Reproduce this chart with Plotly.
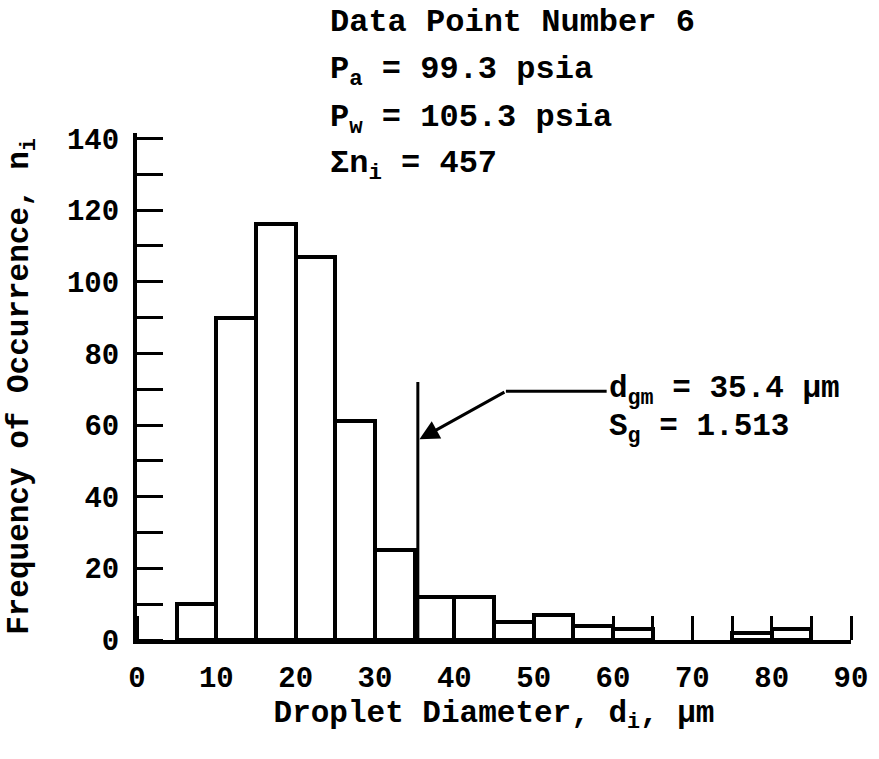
import plotly.graph_objects as go

# Data
bin_left = [0, 5, 10, 15, 20, 25, 30, 35, 40, 45, 50, 55, 60, 65, 70, 75, 80]
counts = [0, 10, 90, 116, 107, 61, 25, 12, 12, 5, 7, 4, 3, 0, 0, 2, 3]
bin_width = 5
x_ticks = [0, 10, 20, 30, 40, 50, 60, 70, 80, 90]
y_ticks = [0, 20, 40, 60, 80, 100, 120, 140]
dgm = 35.4
dgm_line_top = 72

FONT = "Liberation Mono"
TXT = 31

xs = [b + bin_width / 2 for b, c in zip(bin_left, counts) if c > 0]
ys = [c for c in counts if c > 0]

fig = go.Figure()
fig.add_trace(go.Bar(
    x=xs, y=ys, width=bin_width,
    marker=dict(color="white", line=dict(color="black", width=4)),
    showlegend=False, hoverinfo="x+y",
))

xt_all = list(range(0, 91, 5))
yt_all = list(range(0, 141, 10))

fig.update_layout(
    width=879, height=759,
    margin=dict(l=137, r=28, t=133, b=119),
    paper_bgcolor="white", plot_bgcolor="white",
    font=dict(family=FONT, size=TXT, color="black", weight="bold"),
    bargap=0,
    xaxis=dict(
        range=[0, 90], tickmode="array", tickvals=x_ticks,
        ticktext=[str(v) for v in x_ticks],
        ticks="", showgrid=False, zeroline=False,
        showline=True, linecolor="black", linewidth=4,
        tickfont=dict(family=FONT, size=29, weight="bold"),
        ticklabelstandoff=8,
        minor=dict(tickvals=xt_all, ticks="inside", ticklen=24, tickwidth=3, tickcolor="black"),
        title=dict(text="Droplet Diameter, d<sub>i</sub>, μm",
                   font=dict(family=FONT, size=TXT, weight="bold"), standoff=6),
    ),
    yaxis=dict(
        range=[0, 141.5], tickmode="array", tickvals=y_ticks,
        ticktext=[str(v) for v in y_ticks],
        ticks="", showgrid=False, zeroline=False,
        showline=True, linecolor="black", linewidth=4,
        tickfont=dict(family=FONT, size=29, weight="bold"),
        ticklabelstandoff=8,
        minor=dict(tickvals=yt_all, ticks="inside", ticklen=26, tickwidth=3, tickcolor="black"),
        title=dict(text="Frequency of Occurrence, n<sub>i</sub>",
                   font=dict(family=FONT, size=TXT, weight="bold"), standoff=30),
    ),
)

fig.add_shape(type="line", x0=dgm, x1=dgm, y0=0, y1=dgm_line_top,
              line=dict(color="black", width=3))
fig.add_shape(type="line", x0=46.5, x1=59.2, y0=69.4, y1=69.4,
              line=dict(color="black", width=3))
fig.add_annotation(x=dgm + 0.2, y=56, ax=46.5, ay=69.4, xref="x", yref="y",
                   axref="x", ayref="y", text="", showarrow=True,
                   arrowhead=2, arrowsize=1.3, arrowwidth=3, arrowcolor="black")

fig.add_annotation(x=59.3, y=69.4, xref="x", yref="y", xanchor="left", yanchor="middle",
                   text="d<sub>gm</sub> = 35.4 μm", showarrow=False,
                   font=dict(family=FONT, size=TXT, weight="bold"))
fig.add_annotation(x=59.3, y=58.8, xref="x", yref="y", xanchor="left", yanchor="middle",
                   text="S<sub>g</sub> = 1.513", showarrow=False,
                   font=dict(family=FONT, size=TXT, weight="bold"))

# info block in paper coordinates (above the plot area)
info = ["Data Point Number 6", "P<sub>a</sub> = 99.3 psia",
        "P<sub>w</sub> = 105.3 psia", "Σn<sub>i</sub> = 457"]
info_y = [1.218, 1.122, 1.027, 0.936]
for t, yv in zip(info, info_y):
    fig.add_annotation(x=0.268, y=yv, xref="paper", yref="paper", xanchor="left", yanchor="middle",
                       text=t, showarrow=False,
                       font=dict(family=FONT, size=32, weight="bold"))

fig.write_html("out.html")
